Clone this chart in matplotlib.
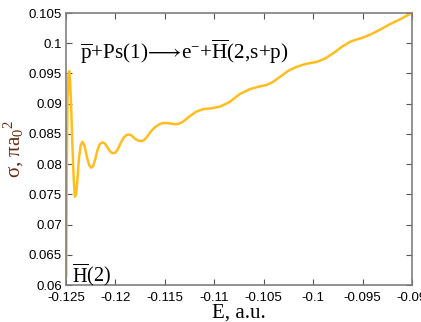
import matplotlib
matplotlib.use("Agg")
import matplotlib.pyplot as plt

plt.rcParams['mathtext.fontset'] = 'custom'
plt.rcParams['mathtext.rm'] = 'Liberation Serif'
plt.rcParams['mathtext.it'] = 'Liberation Serif:italic'
plt.rcParams['mathtext.default'] = 'rm'
plt.rcParams['mathtext.fallback'] = 'stix'

energy = [-0.12497, -0.12492, -0.12485, -0.12477, -0.12468, -0.12458, -0.12447,
          -0.12435, -0.12422, -0.1241, -0.12398, -0.12385, -0.1237, -0.12352,
          -0.12332, -0.12312, -0.1229, -0.12268, -0.12245, -0.12225, -0.12205,
          -0.12182, -0.1216, -0.1213, -0.12106, -0.12082, -0.12055, -0.1203,
          -0.12, -0.11975, -0.1195, -0.1192, -0.1189, -0.11865, -0.11843,
          -0.1182, -0.11795, -0.1177, -0.11745, -0.11719, -0.1169, -0.1166,
          -0.11632, -0.11601, -0.11555, -0.11517, -0.11483, -0.1144, -0.11399,
          -0.11355, -0.11318, -0.1125, -0.1118, -0.1111, -0.11045, -0.10944,
          -0.10843, -0.10742, -0.10641, -0.10555, -0.1047, -0.10405, -0.10339,
          -0.10255, -0.10167, -0.1007, -0.09965, -0.09875, -0.09783, -0.0971,
          -0.09631, -0.09565, -0.095, -0.09399, -0.09329, -0.0923, -0.09127,
          -0.0906, -0.09]
sigma = [0.0613, 0.0790, 0.0905, 0.0945, 0.0954, 0.0935, 0.0890,
         0.0830, 0.0775, 0.0746, 0.0750, 0.0773, 0.0808, 0.0831,
         0.0837, 0.0830, 0.0813, 0.0799, 0.0794, 0.0797, 0.0808,
         0.0823, 0.0833, 0.0836, 0.0834, 0.0828, 0.0821, 0.0818,
         0.0819, 0.0825, 0.0834, 0.0843, 0.0848, 0.0849, 0.0848,
         0.0845, 0.0841, 0.0839, 0.0838, 0.0839, 0.0843, 0.0850,
         0.0856, 0.0861, 0.0866, 0.0868, 0.0868, 0.0867, 0.0866,
         0.0867, 0.0870, 0.0879, 0.0887, 0.0891, 0.0892, 0.0895,
         0.0903, 0.0916, 0.0924, 0.0928, 0.0931, 0.0936, 0.0944,
         0.0954, 0.0961, 0.0966, 0.0969, 0.0975, 0.0985, 0.0994,
         0.1002, 0.1006, 0.1009, 0.1016, 0.1022, 0.1031, 0.1039,
         0.1045, 0.1050]

xticks = [-0.125, -0.12, -0.115, -0.11, -0.105, -0.1, -0.095, -0.09]
xtick_labels = ['-0.125', '-0.12', '-0.115', '-0.11', '-0.105', '-0.1', '-0.095', '-0.09']
yticks = [0.06, 0.065, 0.07, 0.075, 0.08, 0.085, 0.09, 0.095, 0.1, 0.105]
ytick_labels = ['0.06', '0.065', '0.07', '0.075', '0.08', '0.085', '0.09', '0.095', '0.1', '0.105']

serif = ['Liberation Serif', 'DejaVu Serif', 'DejaVu Sans']

fig = plt.figure(figsize=(4.21, 3.22), dpi=100)
ax = fig.add_axes([0.1568, 0.1149, 0.8218, 0.8447])
ax.plot(energy, sigma, color='#FFBE1E', linewidth=1.8, solid_capstyle='round')
ax.set_xlim(-0.125, -0.09)
ax.set_ylim(0.06, 0.105)
ax.set_xticks(xticks)
ax.set_xticklabels(xtick_labels, family='Liberation Sans', fontsize=9.5)
ax.set_yticks(yticks)
ax.set_yticklabels(ytick_labels, family='Liberation Sans', fontsize=9.5)
ax.tick_params(direction='in', top=True, right=True, length=4, width=0.8,
               color='#555555')
ax.tick_params(axis='x', pad=5)
ax.tick_params(axis='y', pad=3)
for s in ax.spines.values():
    s.set_color('#7f7f7f')
    s.set_linewidth(1.2)

ax.set_xlabel('E, a.u.', family=serif, fontsize=15, labelpad=0)
ax.set_ylabel(r'σ, πa$_0$$^2$', family=serif, fontsize=15,
              color='#6b2a10', labelpad=2)

ax.text(0.04, 0.83,
        r'$\overline{\mathrm{p}}$+Ps(1)$\!\longrightarrow\!$e$^{-}$+$\overline{\mathrm{H}}$(2,s+p)',
        transform=ax.transAxes, family=serif, fontsize=15.2, color='black')
ax.text(0.018, 0.008, r'$\overline{\mathrm{H}}$(2)', transform=ax.transAxes,
        family=serif, fontsize=14.5, color='black')

fig.savefig('out.png', dpi=100)
